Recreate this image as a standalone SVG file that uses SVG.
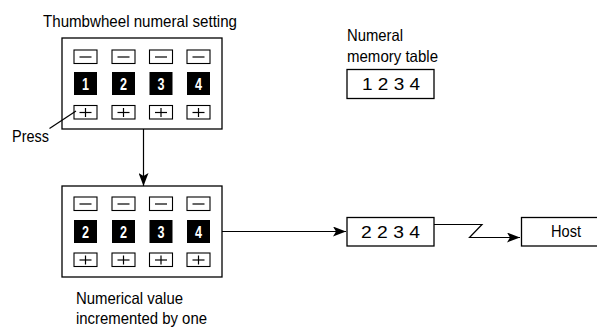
<svg xmlns="http://www.w3.org/2000/svg" width="597" height="329" viewBox="0 0 597 329">
<defs>
<style>
.t{font-family:"Liberation Sans",Arial,sans-serif;font-size:16.5px;fill:#000}
.d{font-family:"Liberation Sans",Arial,sans-serif;font-size:16px;font-weight:bold;fill:#fff;text-anchor:middle}
.box{fill:#fff;stroke:#000;stroke-width:1.3}
.btn{fill:#fff;stroke:#000;stroke-width:1.1}
.ln{fill:none;stroke:#000;stroke-width:1.2}
.blk{fill:#000}
</style>
<marker id="ah" markerWidth="14" markerHeight="10" refX="13" refY="5" orient="auto" markerUnits="userSpaceOnUse">
<path d="M0,0 L13,5 L0,10 L3,5 z" fill="#000"/>
</marker>
<g id="minus"><rect class="btn" x="0" y="0" width="23" height="13.5"/><line class="ln" x1="5.5" y1="7" x2="17.5" y2="7"/></g>
<g id="plus"><rect class="btn" x="0" y="0" width="23" height="13.5"/><line class="ln" x1="5.5" y1="7" x2="17.5" y2="7"/><line class="ln" x1="11.5" y1="2.5" x2="11.5" y2="11.5"/></g>
</defs>
<rect width="597" height="329" fill="#fff"/>

<text class="t" x="43" y="27" textLength="194" lengthAdjust="spacingAndGlyphs">Thumbwheel numeral setting</text>

<g id="thumbwheel-top">
<rect class="box" x="62" y="38" width="160" height="91"/>
<use href="#minus" x="74" y="50"/><use href="#minus" x="112" y="50"/><use href="#minus" x="149.5" y="50"/><use href="#minus" x="187" y="50"/>
<rect class="blk" x="74" y="72" width="23" height="23"/><rect class="blk" x="112" y="72" width="23" height="23"/><rect class="blk" x="149.5" y="72" width="23" height="23"/><rect class="blk" x="187" y="72" width="23" height="23"/>
<text class="d" x="85.5" y="89.5" textLength="7" lengthAdjust="spacingAndGlyphs">1</text>
<text class="d" x="123.5" y="89.5" textLength="7" lengthAdjust="spacingAndGlyphs">2</text>
<text class="d" x="161" y="89.5" textLength="7" lengthAdjust="spacingAndGlyphs">3</text>
<text class="d" x="198.5" y="89.5" textLength="7" lengthAdjust="spacingAndGlyphs">4</text>
<use href="#plus" x="74" y="105.5"/><use href="#plus" x="112" y="105.5"/><use href="#plus" x="149.5" y="105.5"/><use href="#plus" x="187" y="105.5"/>
</g>

<g id="press-label">
<text class="t" x="12" y="142" textLength="37" lengthAdjust="spacingAndGlyphs">Press</text>
</g>

<g id="thumbwheel-bottom">
<rect class="box" x="62" y="186" width="160" height="91"/>
<use href="#minus" x="74" y="197"/><use href="#minus" x="112" y="197"/><use href="#minus" x="149.5" y="197"/><use href="#minus" x="187" y="197"/>
<rect class="blk" x="74" y="220" width="23" height="23"/><rect class="blk" x="112" y="220" width="23" height="23"/><rect class="blk" x="149.5" y="220" width="23" height="23"/><rect class="blk" x="187" y="220" width="23" height="23"/>
<text class="d" x="85.5" y="237.5" textLength="7" lengthAdjust="spacingAndGlyphs">2</text>
<text class="d" x="123.5" y="237.5" textLength="7" lengthAdjust="spacingAndGlyphs">2</text>
<text class="d" x="161" y="237.5" textLength="7" lengthAdjust="spacingAndGlyphs">3</text>
<text class="d" x="198.5" y="237.5" textLength="7" lengthAdjust="spacingAndGlyphs">4</text>
<use href="#plus" x="74" y="253"/><use href="#plus" x="112" y="253"/><use href="#plus" x="149.5" y="253"/><use href="#plus" x="187" y="253"/>
</g>

<text class="t" x="76" y="304" textLength="107" lengthAdjust="spacingAndGlyphs">Numerical value</text>
<text class="t" x="76" y="324" textLength="131" lengthAdjust="spacingAndGlyphs">incremented by one</text>

<g id="memory-table">
<text class="t" x="347" y="41" textLength="56" lengthAdjust="spacingAndGlyphs">Numeral</text>
<text class="t" x="347" y="62" textLength="91" lengthAdjust="spacingAndGlyphs">memory table</text>
<rect class="box" x="347" y="69.5" width="87" height="29"/>
<text class="t" x="362" y="89.5" textLength="58" lengthAdjust="spacingAndGlyphs">1 2 3 4</text>
</g>

<g id="memory-updated">
<rect class="box" x="347" y="217.5" width="87" height="28.5"/>
<text class="t" x="361" y="237.5" textLength="59" lengthAdjust="spacingAndGlyphs">2 2 3 4</text>
</g>

<g id="host">
<rect class="box" x="521.5" y="217.5" width="80" height="28.5"/>
<text class="t" x="551" y="237" textLength="30" lengthAdjust="spacingAndGlyphs">Host</text>
</g>

<g id="connectors">
<line class="ln" x1="76" y1="111" x2="49.5" y2="128.5"/>
<line class="ln" x1="143.5" y1="129" x2="143.5" y2="186" marker-end="url(#ah)"/>
<line class="ln" x1="222" y1="231.5" x2="346" y2="231.5" marker-end="url(#ah)"/>
<polyline class="ln" points="434,224.5 482,224.5 469.5,237.5 520,237.5" marker-end="url(#ah)"/>
</g>
</svg>
